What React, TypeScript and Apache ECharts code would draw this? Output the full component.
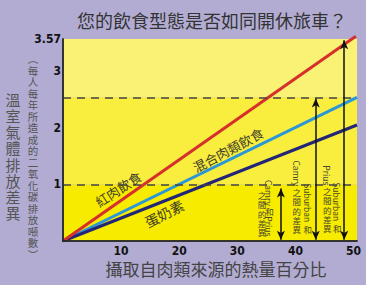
import React, { useEffect, useRef } from 'react';
import * as echarts from 'echarts';

const chartTitle = '您的飲食型態是否如同開休旅車？';
const xTitle = '攝取自肉類來源的熱量百分比';
const yTitle = '溫室氣體排放差異';
const ySubtitle = '︵每人每年所造成的二氧化碳排放噸數︶';

const xTicks = [10, 20, 30, 40, 50];
const yTicks = [1, 2, 3, 3.57];
const xMax = 50.6;
const yMax = 3.57;

const seriesNames = ['紅肉飲食', '混合肉類飲食', '蛋奶素'];
const redMeat = [[0, 0], [50.4, 3.62]];
const mixedMeat = [[0, 0], [50.6, 2.54]];
const lactoOvo = [[0, 0], [50.6, 2.05]];

const levels = [1, 2.54];
const bands = [[0, 1], [1, 2.54], [2.54, 3.57]];

const arrowX = [37.5, 43.5, 48.4];
const arrowTop = [0.93, 2.52, 3.55];
const arrowLabels = [
  ['Camry和Prius', '之間的差異'],
  ['Suburban 和', 'Camry之間的差異'],
  ['Suburban 和', 'Prius之間的差異'],
];

// label anchor points (data coords) and rotations (degrees)
const lineLabelPos = [[9.5, 0.92], [28.4, 1.61], [17.4, 0.49]];
const lineLabelRot = [33, 28, 27];

const CJK = '"Noto Sans CJK TC", "Noto Sans CJK SC", sans-serif';

function measure(t: string, fs: number) {
  const c = document.createElement('canvas').getContext('2d')!;
  c.font = `${fs}px ${CJK}`;
  return c.measureText(t).width;
}

function vcol(text: string, cx: number, bottom: number, fs: number, adv: number, color: string) {
  const tokens = text.match(/[\x20-\x7e]+|[^\x20-\x7e]+/g) || [];
  const parts = tokens.map((t) => {
    const latin = /^[\x20-\x7e]+$/.test(t);
    return { t, latin, h: latin ? measure(t, fs) + 1 : adv * t.length };
  });
  const total = parts.reduce((s, p) => s + p.h, 0);
  let y = bottom - total;
  const els: any[] = [];
  parts.forEach((p) => {
    if (p.latin) {
      const tr = p.t.trim();
      const lead = p.t.length - p.t.trimStart().length > 0 ? measure(' ', fs) : 0;
      const w = measure(tr, fs);
      els.push({
        type: 'text', x: cx, y: y + lead + w / 2 + 0.5, rotation: -Math.PI / 2, silent: true, z: 100,
        style: { text: tr, fontSize: fs, fontFamily: CJK, fill: color, align: 'center', verticalAlign: 'middle' },
      });
    } else {
      els.push({
        type: 'text', x: cx, y: y, silent: true, z: 100,
        style: {
          text: p.t.split('').join('\n'), fontSize: fs, lineHeight: adv, fontFamily: CJK, fill: color,
          align: 'center', verticalAlign: 'top',
        },
      });
    }
    y += p.h;
  });
  return els;
}

export default function App() {
  const ref = useRef<HTMLDivElement>(null);
  useEffect(() => {
    const chart = echarts.init(ref.current!, null, { renderer: 'svg' });
    const tickFont = {
      fontFamily: '"Liberation Sans Narrow", "DejaVu Sans Condensed", "Liberation Sans", sans-serif',
      fontWeight: 'bold' as const,
      fontSize: 12,
      color: '#111',
    };
    const borderAxis = { show: true, lineStyle: { color: '#2a2a2a', width: 1.5 } };
    const option: any = {
      animation: false,
      backgroundColor: '#b2acd3',
      grid: { left: 63, right: 9, top: 39, bottom: 44, outerBoundsMode: 'none' },
      xAxis: [
        {
          type: 'value', min: 0, max: xMax, z: 10,
          axisLine: borderAxis, axisTick: { show: false }, splitLine: { show: false },
          axisLabel: { ...tickFont, margin: 4, customValues: xTicks },
        },
        {
          type: 'value', min: 0, max: xMax, position: 'top', z: 10,
          axisLine: borderAxis, axisTick: { show: false }, splitLine: { show: false }, axisLabel: { show: false },
        },
      ],
      yAxis: [
        {
          type: 'value', min: 0, max: yMax, z: 10,
          axisLine: borderAxis, axisTick: { show: false }, splitLine: { show: false },
          axisLabel: { ...tickFont, margin: 2, customValues: yTicks, formatter: (v: number) => String(v) },
        },
        {
          type: 'value', min: 0, max: yMax, position: 'right', z: 10,
          axisLine: borderAxis, axisTick: { show: false }, splitLine: { show: false }, axisLabel: { show: false },
        },
      ],
      series: [
        {
          type: 'line', data: [], silent: true,
          markArea: {
            silent: true,
            data: bands.map((b, i) => [
              { yAxis: b[0], itemStyle: { color: ['#f7eb00', '#f9ee3e', '#faf274'][i] } },
              { yAxis: b[1] },
            ]),
          },
          markLine: {
            silent: true, symbol: 'none', label: { show: false },
            lineStyle: { type: [8, 6], color: '#444', width: 1.5 },
            data: levels.map((v) => ({ yAxis: v })),
          },
        },
        {
          name: seriesNames[0], type: 'line', data: redMeat, symbol: 'none', clip: false, z: 4,
          lineStyle: { color: '#d6302c', width: 3 },
        },
        {
          name: seriesNames[1], type: 'line', data: mixedMeat, symbol: 'none', z: 3,
          lineStyle: { color: '#2b97d6', width: 3 },
        },
        {
          name: seriesNames[2], type: 'line', data: lactoOvo, symbol: 'none', z: 3,
          lineStyle: { color: '#232577', width: 3 },
        },
        {
          type: 'line', data: [], silent: true, z: 5,
          markLine: {
            silent: true, symbol: ['arrow', 'arrow'], symbolSize: [6, 9], label: { show: false },
            lineStyle: { type: 'solid', color: '#111', width: 1.5 },
            data: arrowX.map((x, i) => [{ coord: [x, arrowTop[i]] }, { coord: [x, 0.02] }]),
          },
        },
      ],
    };
    chart.setOption(option);

    const px = (x: number, y: number) => chart.convertToPixel({ gridIndex: 0 }, [x, y]) as number[];
    const els: any[] = [];
    els.push({
      type: 'text', x: 212, y: 20, silent: true, z: 100,
      style: { text: chartTitle, fontSize: 18, fontFamily: CJK, fill: '#333', align: 'center', verticalAlign: 'middle' },
    });
    els.push({
      type: 'text', x: 216, y: 268, silent: true, z: 100,
      style: { text: xTitle, fontSize: 17, fontFamily: CJK, fill: '#444', align: 'center', verticalAlign: 'middle' },
    });
    els.push({
      type: 'text', x: 13, y: 91, silent: true, z: 100,
      style: {
        text: yTitle.split('').join('\n'), fontSize: 15, lineHeight: 16.25, fontFamily: CJK,
        fill: '#555', align: 'center', verticalAlign: 'top',
      },
    });
    els.push({
      type: 'text', x: 33, y: 53, silent: true, z: 100,
      style: {
        text: ySubtitle.split('').join('\n'), fontSize: 10.5, lineHeight: 11.5, fontFamily: CJK,
        fill: '#555', align: 'center', verticalAlign: 'top',
      },
    });
    seriesNames.forEach((n, i) => {
      const p = px(lineLabelPos[i][0], lineLabelPos[i][1]);
      els.push({
        type: 'text', x: p[0], y: p[1], rotation: (lineLabelRot[i] * Math.PI) / 180, silent: true, z: 100,
        style: { text: n, fontSize: i === 2 ? 14 : 13, fontFamily: CJK, fill: '#3d3b2a', align: 'center', verticalAlign: 'middle' },
      });
    });
    const colOffsets = [[-11.5, -19], [-8, -19], [-7, -17]];
    const colBottoms = [237, 234, 233];
    arrowX.forEach((x, i) => {
      const ax = px(x, 0)[0];
      arrowLabels[i].forEach((t, j) => {
        els.push(...vcol(t, ax + colOffsets[i][j], colBottoms[i], 8.5, 9.4, '#4a4830'));
      });
    });
    chart.setOption({ graphic: { elements: els } });

    return () => chart.dispose();
  }, []);
  return <div ref={ref} style={{ position: 'absolute', left: 0, top: 0, width: 366, height: 285 }} />;
}
